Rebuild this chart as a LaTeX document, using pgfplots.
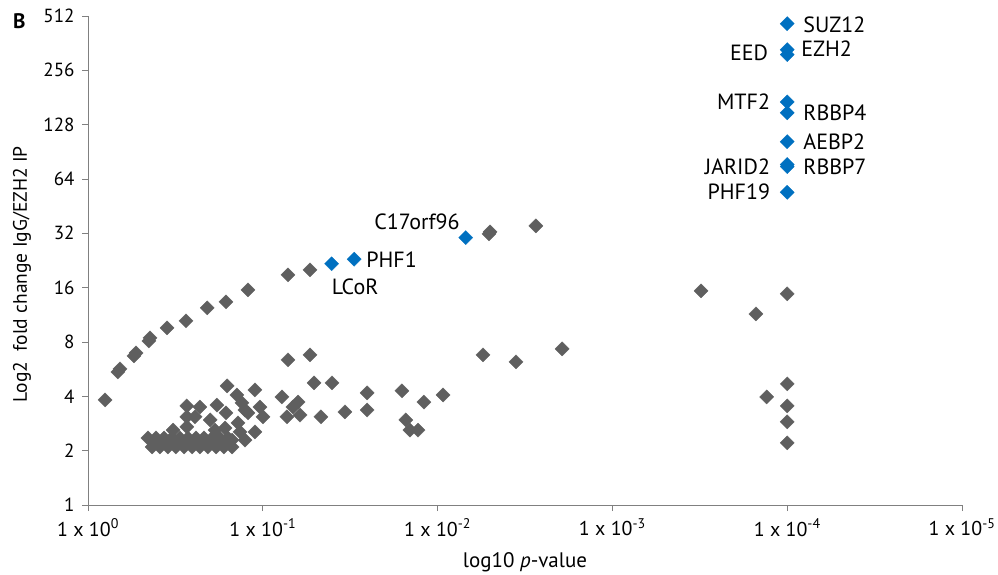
\documentclass[border=0pt]{standalone}
\usepackage{fontspec}
\setmainfont{PT Sans}
\usepackage{pgfplots}
\pgfplotsset{compat=1.18}
\definecolor{ptgray}{HTML}{5F5F5F}
\definecolor{ptblue}{HTML}{0070C0}
\definecolor{axgray}{HTML}{808080}
\begin{document}
\fontsize{22}{26}\selectfont
\begin{tikzpicture}
\begin{axis}[
  scale only axis, width=874pt, height=489pt,
  xmode=log, ymode=log, log basis y=2, x dir=reverse,
  xmin=1e-5, xmax=1, ymin=1, ymax=512,
  axis x line=bottom, axis y line=left,
  axis line style={-, axgray, line width=0.8pt},
  xtick={1,0.1,0.01,0.001,0.0001,0.00001},
  xticklabels={1 x 10\textsuperscript{0},1 x 10\textsuperscript{-1},1 x 10\textsuperscript{-2},1 x 10\textsuperscript{-3},1 x 10\textsuperscript{-4},1 x 10\textsuperscript{-5}},
  ytick={1,2,4,8,16,32,64,128,256,512},
  yticklabels={1,2,4,8,16,32,64,128,256,512},
  xminorticks=false, yminorticks=false,
  tick align=outside, major tick length=6pt,
  tick style={axgray, line width=0.8pt},
  yticklabel style={font=\fontsize{19}{22}\selectfont},
  xticklabel style={font=\fontsize{20}{22}\selectfont},
  clip=false,
  xlabel={log10 \textit{p}-value},
  xlabel style={font=\fontsize{21}{24}\selectfont, at={(axis description cs:0.5,-0.1166)}, anchor=center},
  ylabel={Log2~~fold change IgG/EZH2 IP},
  ylabel style={font=\fontsize{19.5}{22}\selectfont, at={(axis description cs:-0.0755,0.472)}, anchor=center, rotate=0},
]
% grey proteins
\addplot[only marks, mark=square*, mark size=5pt, mark options={rotate=45, fill=ptgray, draw=ptgray, line width=0.3pt}] coordinates {
(0.799,3.82) (0.674,5.46) (0.656,5.68) (0.546,6.70) (0.531,6.96)
(0.448,8.11) (0.442,8.43) (0.353,9.58) (0.275,10.47) (0.208,12.37)
(0.1625,13.35) (0.1216,15.55) (0.0718,18.84) (0.0537,20.08)
(0.00508,31.8) (0.00501,32.6) (0.00274,35.2)
(0.0718,6.37) (0.0537,6.79) (0.00550,6.79) (0.00356,6.21) (0.00194,7.33)
(0.1109,4.34) (0.0777,3.97) (0.0509,4.75) (0.0402,4.75) (0.0253,4.18)
(0.0160,4.29) (0.01197,3.72) (0.00931,4.07) (0.1038,3.49) (0.0997,3.08)
(0.1109,2.54) (0.0629,3.72) (0.0672,3.49) (0.0728,3.08) (0.0612,3.15)
(0.0465,3.08) (0.0339,3.28) (0.0253,3.36) (0.0152,2.96) (0.0144,2.60)
(0.01294,2.60)
(3.11e-4,15.36) (1.0e-4,14.8) (1.51e-4,11.45) (1.0e-4,4.69) (1.31e-4,3.97)
(1.0e-4,3.54) (1.0e-4,2.89) (1.0e-4,2.21)
(0.430,2.097) (0.388,2.097) (0.349,2.097) (0.314,2.097) (0.282,2.097)
(0.254,2.097) (0.229,2.097) (0.206,2.097) (0.185,2.097) (0.167,2.097) (0.150,2.097)
(0.454,2.352) (0.408,2.352) (0.367,2.352) (0.331,2.352) (0.298,2.352)
(0.268,2.352) (0.241,2.352) (0.217,2.352) (0.195,2.352) (0.176,2.352) (0.158,2.352)
(0.398,2.235) (0.322,2.235) (0.261,2.235) (0.211,2.235) (0.171,2.235)
(0.326,2.60) (0.272,2.71) (0.272,3.08) (0.272,3.54) (0.229,3.49)
(0.244,3.08) (0.200,2.96) (0.183,3.58) (0.160,4.57) (0.1406,4.07)
(0.1625,3.24) (0.1315,3.68) (0.1264,3.36) (0.1216,3.24) (0.1387,2.85)
(0.135,2.54) (0.1645,2.67) (0.1876,2.60) (0.150,2.29) (0.1264,2.29)
};
% PRC2-associated proteins
\addplot[only marks, mark=square*, mark size=5pt, mark options={rotate=45, fill=ptblue, draw=ptblue, line width=0.3pt}] coordinates {
(1e-4,464) (1e-4,333) (1e-4,313) (1e-4,171) (1e-4,149) (1e-4,103)
(1e-4,77) (1e-4,75) (1e-4,54) (0.0069,30.3) (0.030,23.0) (0.0404,21.7)
};
\node[anchor=west, inner sep=0pt, xshift=16pt] at (axis cs:1e-4,460) {SUZ12};
\node[anchor=west, inner sep=0pt, xshift=14pt] at (axis cs:1e-4,337) {EZH2};
\node[anchor=east, inner sep=0pt, xshift=-19pt] at (axis cs:1e-4,322) {EED};
\node[anchor=east, inner sep=0pt, xshift=-17pt] at (axis cs:1e-4,171) {MTF2};
\node[anchor=west, inner sep=0pt, xshift=16pt] at (axis cs:1e-4,149) {RBBP4};
\node[anchor=west, inner sep=0pt, xshift=16pt] at (axis cs:1e-4,103) {AEBP2};
\node[anchor=east, inner sep=0pt, xshift=-17pt] at (axis cs:1e-4,74.8) {JARID2};
\node[anchor=west, inner sep=0pt, xshift=16pt] at (axis cs:1e-4,74.8) {RBBP7};
\node[anchor=east, inner sep=0pt, xshift=-17pt] at (axis cs:1e-4,54.4) {PHF19};
\node[anchor=east, inner sep=0pt, xshift=-6pt, yshift=16pt] at (axis cs:0.0069,30.3) {C17orf96};
\node[anchor=west, inner sep=0pt, xshift=12pt] at (axis cs:0.030,23.0) {PHF1};
\node[anchor=west, inner sep=0pt, xshift=0pt, yshift=-23pt] at (axis cs:0.0404,21.7) {LCoR};
\end{axis}
\node[anchor=north west, inner sep=0pt, font=\bfseries\fontsize{21}{24}\selectfont] at ([shift={(-75pt,3pt)}]current axis.north west) {B};
\pgfresetboundingbox
\path[use as bounding box] ([shift={(-88pt,-69pt)}]current axis.south west) rectangle ([shift={(36pt,16pt)}]current axis.north east);
\end{tikzpicture}
\end{document}
